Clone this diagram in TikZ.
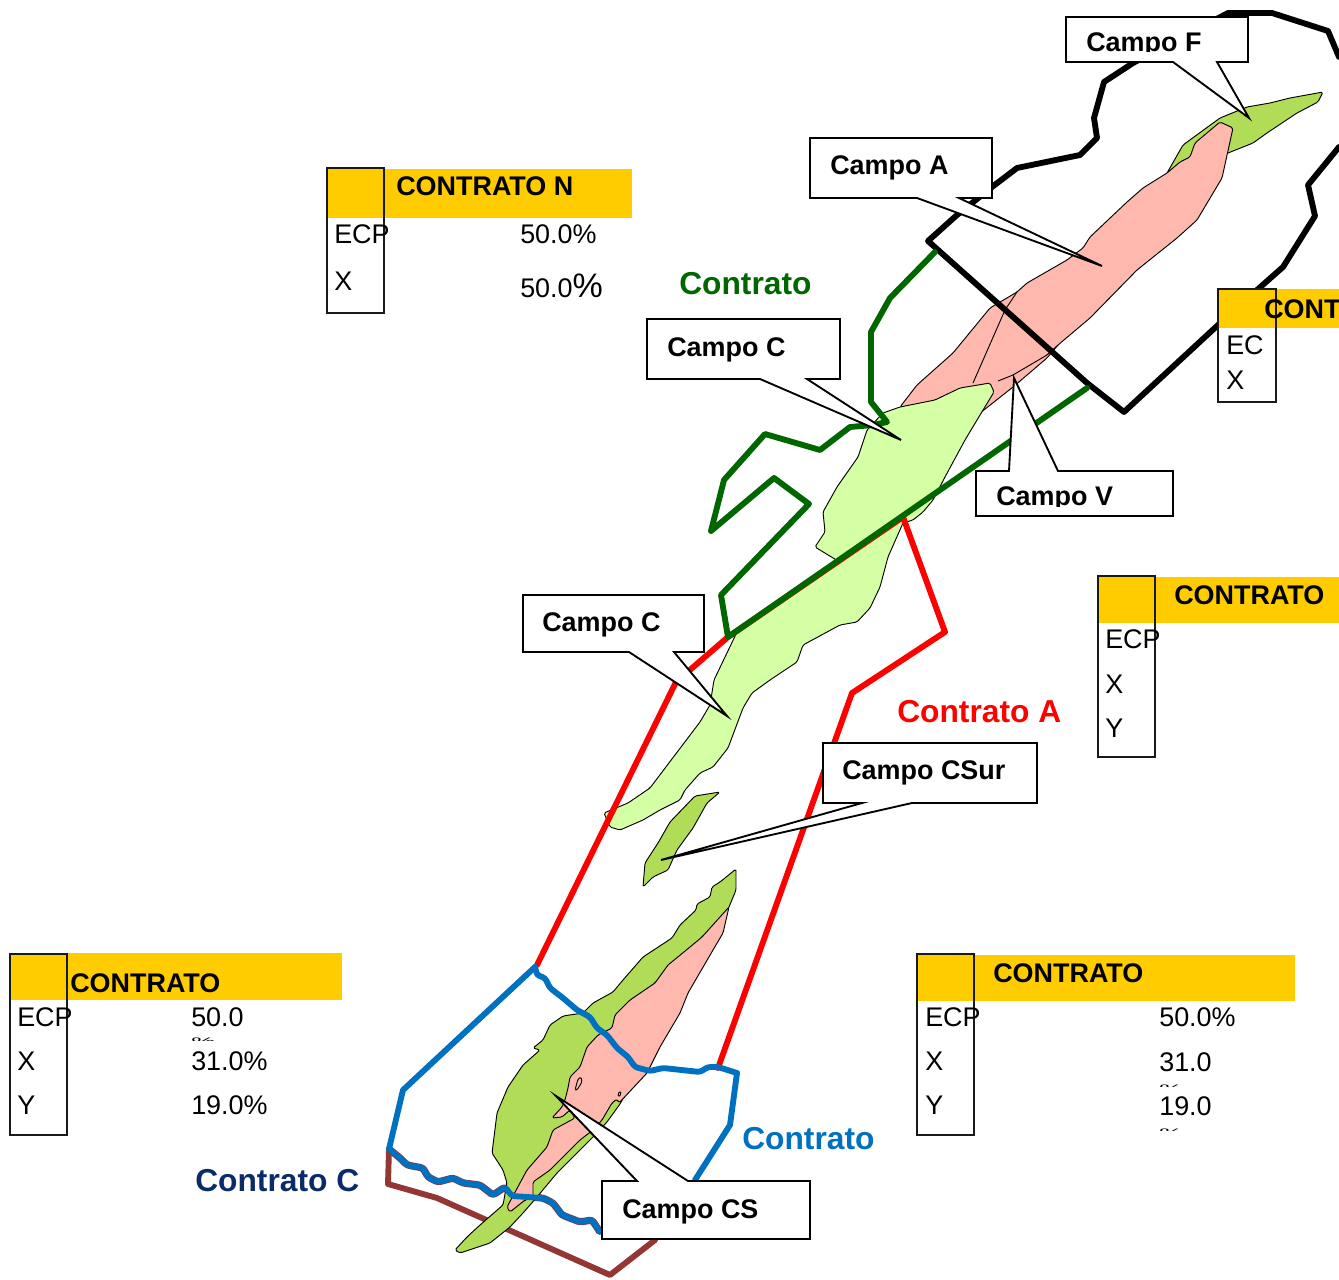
\documentclass[tikz,border=0pt]{standalone}
\usepackage{graphicx}
\usepackage{fontspec}
\setmainfont{Liberation Sans}
\definecolor{ltgreen}{HTML}{D5FFA5}
\definecolor{midgreen}{HTML}{B0DC58}
\definecolor{fieldpink}{HTML}{FFB8AE}
\definecolor{dkgreen}{HTML}{006600}
\definecolor{cblue}{HTML}{0070C0}
\definecolor{cbrown}{HTML}{943634}
\definecolor{cyellow}{HTML}{FFCC00}
\definecolor{cnavy}{HTML}{0B2A6B}
\tikzset{
  field/.style={draw=black,line width=0.7pt,rounded corners=1.2pt,line join=round},
  contour/.style={line width=4.4pt,line join=round,line cap=round},
  callout/.style={draw=black,fill=white,line width=1.4pt,line join=miter},
  tbox/.style={draw=black!90,line width=1.5pt},
  tband/.style={fill=cyellow},
  txt/.style={anchor=base west,inner sep=0pt,font=\fontsize{20.2pt}{24pt}\selectfont},
  btxt/.style={txt,font=\fontsize{20.2pt}{24pt}\selectfont\bfseries},
  bigtxt/.style={anchor=base west,inner sep=0pt,font=\fontsize{23.8pt}{28pt}\selectfont\bfseries}
}
\newcommand{\cutpct}{\scalebox{1}[0.35]{\%}}
\begin{document}
\begin{tikzpicture}[x=0.75pt,y=-0.75pt]
\useasboundingbox (0,0) rectangle (1339,1280);
% brown contour
\draw[contour,cbrown] (389,1149) -- (388,1184) -- (437,1198) -- (610,1275) -- (655,1240);
\draw[cbrown,line width=5.4pt,rounded corners=2pt,line join=round] (389,1149) -- (400,1158) -- (407,1165) -- (423,1168) -- (428,1177) -- (438,1182) -- (453,1178) -- (463,1183) -- (480,1185) -- (493,1195) -- (505,1187) -- (512,1196) -- (543,1198) -- (553,1203) -- (562,1215) -- (580,1222) -- (592,1220) -- (600,1232);
% F field
\draw[field,fill=midgreen] (1167,173) -- (1183,145) -- (1220,118) -- (1247,107) -- (1270,103) -- (1290,98) -- (1323,92) -- (1318,102) -- (1297,113) -- (1267,133) -- (1253,143) -- (1228,153) -- (1200,165) -- cycle;
% upper pink field
\draw[field,fill=fieldpink] (900,407) -- (917,385) -- (953,353) -- (990,308) -- (1017,292) -- (1027,283) -- (1067,260) -- (1083,248) -- (1090,237) -- (1127,202) -- (1143,188) -- (1167,173) -- (1180,162) -- (1190,157) -- (1195,143) -- (1220,122) -- (1233,128) -- (1222,178) -- (1197,220) -- (1177,238) -- (1137,270) -- (1090,318) -- (1058,345) -- (1047,358) -- (1013,387) -- (975,417) -- (940,420) -- cycle;
\draw[field] (1017,292) -- (1005,310) -- (973,383);
\draw[field] (998,381) -- (1013,375) -- (1047,355) -- (1058,345);
% upper and middle light-green field
\draw[field,fill=ltgreen] (883,413) -- (900,407) -- (935,400) -- (960,388) -- (990,383) -- (994,392) -- (980,415) -- (965,440) -- (945,477) -- (933,500) -- (923,512) -- (913,520) -- (903,523) -- (888,557) -- (880,587) -- (870,608) -- (857,622) -- (840,625) -- (803,645) -- (797,662) -- (770,680) -- (752,693) -- (743,708) -- (728,748) -- (713,767) -- (700,773) -- (685,790) -- (680,800) -- (660,810) -- (643,820) -- (620,830) -- (610,827) -- (604,813) -- (628,803) -- (650,788) -- (678,751) -- (700,722) -- (710,705) -- (714,680) -- (737,632) -- (763,613) -- (838,561) -- (815,547) -- (825,532) -- (823,512) -- (837,487) -- (858,457) -- (867,430) -- cycle;
% small field
\draw[field,fill=midgreen] (720,792) -- (695,796) -- (670,822) -- (658,843) -- (645,863) -- (643,887) -- (653,877) -- (668,870) -- (677,850) -- (693,828) -- (707,803) -- cycle;
% lower green field
\draw[field,fill=midgreen] (736,869) -- (720,882) -- (712,887) -- (710,897) -- (697,904) -- (696,910) -- (680,925) -- (672,938) -- (643,957) -- (623,980) -- (613,992) -- (593,1003) -- (583,1013) -- (563,1016) -- (550,1025) -- (543,1040) -- (533,1048) -- (540,1050) -- (523,1065) -- (508,1087) -- (497,1113) -- (492,1153) -- (503,1170) -- (507,1183) -- (503,1205) -- (480,1225) -- (467,1237) -- (455,1250) -- (460,1253) -- (490,1243) -- (510,1227) -- (523,1213) -- (537,1197) -- (557,1173) -- (593,1137) -- (607,1122) -- (620,1104) -- (650,1050) -- (729,907) -- (736,890) -- cycle;
% lower pink field
\draw[field,fill=fieldpink] (729,907) -- (702,937) -- (690,947) -- (668,965) -- (655,983) -- (630,1000) -- (615,1015) -- (612,1028) -- (598,1035) -- (587,1047) -- (580,1067) -- (570,1077) -- (568,1088) -- (565,1100) -- (562,1107) -- (552,1118) -- (562,1117) -- (570,1110) -- (575,1118) -- (553,1130) -- (547,1147) -- (527,1170) -- (507,1207) -- (510,1212) -- (525,1200) -- (533,1198) -- (533,1182) -- (550,1170) -- (580,1140) -- (593,1130) -- (602,1120) -- (612,1103) -- (617,1099) -- (619,1103) -- (647,1073) -- (660,1047) -- (680,1013) -- (688,993) -- (713,950) -- (723,933) -- cycle;
\draw[field,rounded corners=1pt] (575,1090) -- (578,1079) -- (581,1077) -- (582,1082) -- (577,1090) -- cycle;
\draw[field,rounded corners=0.5pt] (618,1096) -- (619,1092) -- (621,1092) -- (620,1096) -- cycle;
% contours
\draw[contour,red] (537,965) -- (676,682) -- (728,637) -- (903,517) -- (945,632) -- (852,693) -- (718,1068);
\draw[contour,black] (1339,57) -- (1328,31) -- (1272,13) -- (1228,13) -- (1133,63) -- (1104,82) -- (1094,118) -- (1097,138) -- (1080,155) -- (1017,168) -- (992,187) -- (957,215) -- (928,241) -- (1087,383) -- (1124,412) -- (1218,325) -- (1257,290) -- (1283,267) -- (1315,216) -- (1308,185) -- (1339,147);
\draw[contour,dkgreen] (935,252) -- (890,298) -- (871,332) -- (871,402) -- (887,422) -- (873,425) -- (850,427) -- (820,450) -- (765,434) -- (724,480) -- (711,531) -- (774,478) -- (809,504) -- (721,595) -- (728,637) -- (1087,388);
\draw[contour,cblue] (389,1149) -- (403,1090) -- (535,967);
\draw[contour,cblue] (737,1073) -- (730,1125) -- (695,1180);
\draw[contour,cblue,rounded corners=2pt] (535,967) -- (537,975) -- (545,978) -- (550,988) -- (563,998) -- (577,1010) -- (590,1017) -- (597,1028) -- (607,1035) -- (617,1048) -- (628,1057) -- (635,1067) -- (650,1071) -- (663,1068) -- (700,1072) -- (708,1067) -- (718,1067) -- (737,1073);
\draw[contour,cblue,rounded corners=2pt] (389,1149) -- (400,1158) -- (407,1165) -- (423,1168) -- (428,1177) -- (438,1182) -- (453,1178) -- (463,1183) -- (480,1185) -- (493,1195) -- (505,1187) -- (512,1196) -- (543,1198) -- (553,1203) -- (562,1215) -- (580,1222) -- (592,1220) -- (600,1232);
% callouts
\draw[callout] (1066,17) -- (1248,17) -- (1248,62) -- (1217,62) -- (1249,118) -- (1173,62) -- (1066,62) -- cycle;
\draw[callout] (810,138) -- (992,138) -- (992,198) -- (959,198) -- (1102,266) -- (917,198) -- (810,198) -- cycle;
\draw[callout] (647,319) -- (840,319) -- (840,379) -- (807,379) -- (901,440) -- (760,379) -- (647,379) -- cycle;
\draw[callout] (976,471) -- (1009,471) -- (1014,378) -- (1058,471) -- (1173,471) -- (1173,516) -- (976,516) -- cycle;
\draw[callout] (523,595) -- (704,595) -- (704,652) -- (674,652) -- (727,716) -- (629,652) -- (523,652) -- cycle;
\draw[callout] (823,743) -- (1037,743) -- (1037,803) -- (912,803) -- (661,860) -- (862,803) -- (823,803) -- cycle;
\draw[callout] (602,1181) -- (637,1181) -- (556,1096) -- (688,1181) -- (810,1181) -- (810,1239) -- (602,1239) -- cycle;
\begin{scope}
\clip (1070,20) rectangle (1240,52);
\node[btxt] (campoF) at (1086,52) {Campo F};
\end{scope}
\node[btxt] (campoA) at (830,175) {Campo A};
\node[btxt] (campoC1) at (667,356) {Campo C};
\begin{scope}
\clip (980,475) rectangle (1170,506);
\node[btxt] (campoV) at (996,505) {Campo V};
\end{scope}
\node[btxt] (campoC2) at (542,631) {Campo C};
\node[btxt] (campoCSur) at (842,779) {Campo CSur};
\node[btxt] (campoCS) at (622,1218) {Campo CS};
% contract labels
\node[bigtxt,text=dkgreen] (lblGreen) at (679,295) {Contrato};
\node[bigtxt,text=red] (lblRed) at (897,722) {Contrato A};
\node[bigtxt,text=cblue] (lblBlue) at (742,1149) {Contrato};
\node[bigtxt,text=cnavy] (lblNavy) at (195,1191) {Contrato C};
% table N
\fill[tband] (327,169) rectangle (632,218);
\draw[tbox] (327,168) rectangle (384,313);
\node[btxt] (nT) at (396,196) {CONTRATO N};
\node[txt] (nE) at (334,244) {ECP};
\node[txt] (nEv) at (520,244) {50.0\%};
\node[txt] (nX) at (334,291) {X};
\node[txt] (nXv) at (520,298) {50.0{\fontsize{25.5pt}{28pt}\selectfont\%}};
% table top right
\fill[tband] (1219,289) rectangle (1339,328);
\draw[tbox] (1218,289) rectangle (1276,402);
\node[btxt] (rT) at (1264,319) {CONT};
\node[txt] (rE) at (1226,354) {EC};
\node[txt] (rX) at (1226,389) {X};
% table middle right
\fill[tband] (1098,577) rectangle (1339,623);
\draw[tbox] (1098,576) rectangle (1155,757);
\node[btxt] (mT) at (1174,604) {CONTRATO};
\node[txt] (mE) at (1105,648) {ECP};
\node[txt] (mX) at (1105,693) {X};
\node[txt] (mY) at (1105,737) {Y};
% table lower left
\fill[tband] (10,953) rectangle (342,1000);
\draw[tbox] (10,954) rectangle (67,1135);
\node[btxt] (lT) at (70,992) {CONTRATO};
\node[txt] (lE) at (17,1026) {ECP};
\node[txt] (lX) at (17,1070) {X};
\node[txt] (lY) at (17,1114) {Y};
\node[txt] (lEv) at (191,1026) {50.0};
\node[txt] (lXv) at (191,1070) {31.0\%};
\node[txt] (lYv) at (191,1114) {19.0\%};
\begin{scope}
\clip (185,1030) rectangle (230,1040.5);
\node[txt] (lEp) at (191,1044.7) {\cutpct};
\end{scope}
% table lower right
\fill[tband] (917,955) rectangle (1295,1001);
\draw[tbox] (917,954) rectangle (974,1135);
\node[btxt] (bT) at (993,982) {CONTRATO};
\node[txt] (bE) at (925,1026) {ECP};
\node[txt] (bX) at (925,1070) {X};
\node[txt] (bY) at (925,1114) {Y};
\node[txt] (bEv) at (1159,1026) {50.0\%};
\node[txt] (bXv) at (1159,1071) {31.0};
\node[txt] (bYv) at (1159,1115) {19.0};
\begin{scope}
\clip (1155,1076) rectangle (1200,1086.5);
\node[txt] (bXp) at (1159,1091.7) {\cutpct};
\end{scope}
\begin{scope}
\clip (1155,1120) rectangle (1200,1130.5);
\node[txt] (bYp) at (1159,1135.7) {\cutpct};
\end{scope}
\end{tikzpicture}
\end{document}
